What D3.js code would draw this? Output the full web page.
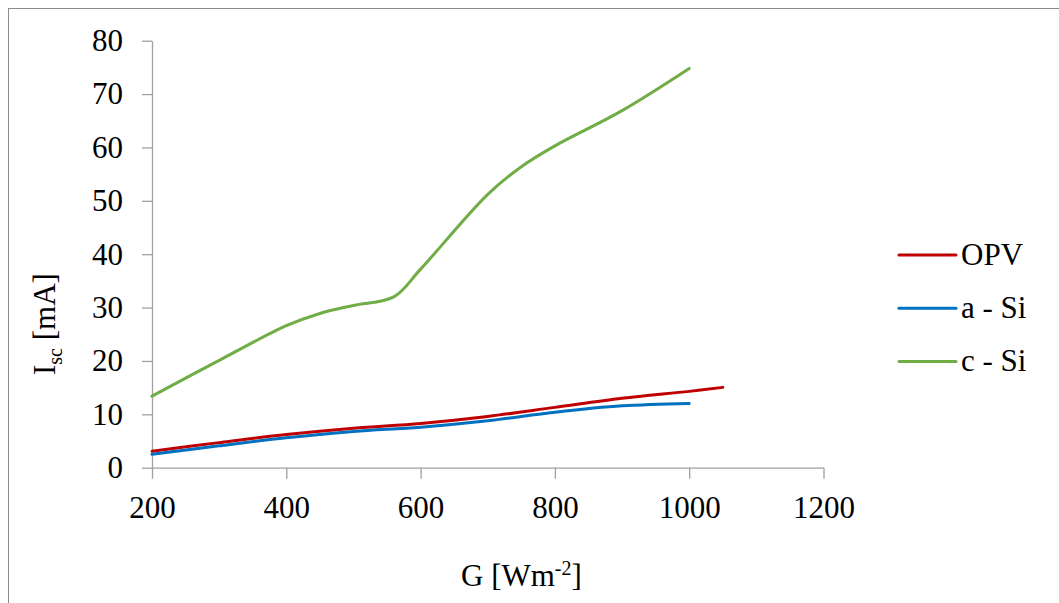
<!DOCTYPE html>
<html>
<head>
<meta charset="utf-8">
<script src="https://cdn.jsdelivr.net/npm/d3@7"></script>
<style>
    body { margin: 0; background: #fff; }
    svg { display: block; }
    text { font-family: "Liberation Serif", "Times New Roman", Tinos, "DejaVu Serif", serif; fill: #000; }
</style>
</head>
<body>
<svg id="drawing_region"></svg>
<script>
// irradiance G [W/m2] and short-circuit current Isc [mA]
const opv_g   = [200, 300, 400, 500, 600, 700, 800, 900, 1000, 1050];
const opv_isc = [3.1, 4.7, 6.2, 7.4, 8.3, 9.6, 11.3, 13.0, 14.3, 15.05];

const asi_g   = [200, 300, 400, 500, 600, 700, 800, 900, 1000];
const asi_isc = [2.5, 4.1, 5.6, 6.8, 7.6, 8.8, 10.4, 11.6, 12.05];

const csi_g   = [200, 300, 400, 450, 500, 560, 600, 700, 750, 800, 900, 1000];
const csi_isc = [13.4, 20.1, 26.6, 28.9, 30.4, 32.0, 37.2, 51.2, 56.4, 60.3, 66.9, 74.8];

const series_names  = ['OPV', 'a - Si', 'c - Si'];
const series_colors = ['#C00000', '#0070C0', '#70AD47'];

const x_ticks = [200, 400, 600, 800, 1000, 1200];
const y_ticks = [0, 10, 20, 30, 40, 50, 60, 70, 80];

const serif = '"Liberation Serif", "Times New Roman", Tinos, "DejaVu Serif", serif';

class LinePlot {

    constructor(config, data) {
        this.config = {
            parent: config.parent || '#drawing_region',
            width:  config.width  || 256,
            height: config.height || 256,
            margin: config.margin || { top: 40, right: 40, bottom: 40, left: 40 }
        };
        this.data = data;
        this.init();
    }

    init() {
        const self = this;

        self.svg = d3.select(self.config.parent)
            .attr('width', self.config.width)
            .attr('height', self.config.height)
            .style('font-family', serif);

        // outer frame of the chart area (only left and top edges are in view)
        self.svg.append('rect')
            .attr('x', 8.5).attr('y', 8.5)
            .attr('width', 1200).attr('height', 800)
            .attr('fill', 'none')
            .attr('stroke', '#8c8c8c')
            .attr('stroke-width', 1);

        self.chart = self.svg.append('g')
            .attr('transform', `translate(${self.config.margin.left}, ${self.config.margin.top})`);

        self.inner_width  = self.config.width  - self.config.margin.left - self.config.margin.right;
        self.inner_height = self.config.height - self.config.margin.top  - self.config.margin.bottom;

        self.xscale = d3.scaleLinear()
            .domain([200, 1200])
            .range([0, self.inner_width]);

        self.yscale = d3.scaleLinear()
            .domain([0, 80])
            .range([self.inner_height, 0]);

        self.xaxis = d3.axisBottom(self.xscale)
            .tickValues(x_ticks)
            .tickFormat(d3.format('d'))
            .tickSizeInner(11)
            .tickSizeOuter(0);

        self.yaxis = d3.axisLeft(self.yscale)
            .tickValues(y_ticks)
            .tickFormat(d3.format('d'))
            .tickSizeInner(10)
            .tickSizeOuter(0)
            .tickPadding(19);

        self.xaxis_group = self.chart.append('g')
            .attr('transform', `translate(0, ${self.inner_height})`);

        self.yaxis_group = self.chart.append('g');

        self.lines_group = self.chart.append('g');
        self.legend_group = self.svg.append('g');
    }

    update() {
        this.render();
    }

    render() {
        const self = this;

        self.xaxis_group.call(self.xaxis);
        self.yaxis_group.call(self.yaxis);

        [self.xaxis_group, self.yaxis_group].forEach(g => {
            g.attr('font-family', serif).attr('font-size', 31);
            g.selectAll('path, line').attr('stroke', '#a0a0a0').attr('stroke-width', 1.3);
            g.selectAll('text').style('font-family', serif).attr('fill', '#000');
        });
        self.xaxis_group.selectAll('text').attr('y', 50).attr('dy', 0);

        const line = d3.line()
            .x(d => self.xscale(d.g))
            .y(d => self.yscale(d.isc))
            .curve(d3.curveCatmullRom.alpha(0.5));

        self.lines_group.selectAll('path')
            .data(self.data)
            .join('path')
            .attr('d', d => line(d.points))
            .attr('fill', 'none')
            .attr('stroke', d => d.color)
            .attr('stroke-width', 3)
            .attr('stroke-linecap', 'round')
            .attr('stroke-linejoin', 'round');

        // legend
        const items = self.legend_group.selectAll('g')
            .data(self.data)
            .join('g')
            .attr('transform', (d, i) => `translate(899, ${255 + i * 53.2})`);

        items.append('line')
            .attr('x1', 0).attr('x2', 57)
            .attr('y1', 0).attr('y2', 0)
            .attr('stroke', d => d.color)
            .attr('stroke-width', 3)
            .attr('stroke-linecap', 'round');

        items.append('text')
            .attr('x', 62).attr('y', 10)
            .attr('font-size', 31)
            .text(d => d.name);

        // axis titles
        const ylabel = self.svg.append('text')
            .attr('transform', 'translate(55, 375) rotate(-90)')
            .attr('font-size', 31);
        ylabel.append('tspan').text('I');
        ylabel.append('tspan').attr('font-size', 20).attr('dy', 7).text('sc');
        ylabel.append('tspan').attr('dy', -7).text(' [mA]');

        const xlabel = self.svg.append('text')
            .attr('x', 461).attr('y', 586)
            .attr('font-size', 31);
        xlabel.append('tspan').text('G [Wm');
        xlabel.append('tspan').attr('font-size', 20).attr('dy', -11).text('-2');
        xlabel.append('tspan').attr('dy', 11).text(']');
    }
}

const make_points = (gs, vals) => gs.map((g, i) => ({ g: g, isc: vals[i] }));

const data = [
    { name: series_names[0], color: series_colors[0], points: make_points(opv_g, opv_isc) },
    { name: series_names[1], color: series_colors[1], points: make_points(asi_g, asi_isc) },
    { name: series_names[2], color: series_colors[2], points: make_points(csi_g, csi_isc) }
];

const config = {
    parent: '#drawing_region',
    width: 1059,
    height: 603,
    margin: { top: 40.7, right: 1059 - 823.5, bottom: 603 - 467.7, left: 152 }
};

const plot = new LinePlot(config, data);
plot.update();
</script>
</body>
</html>
